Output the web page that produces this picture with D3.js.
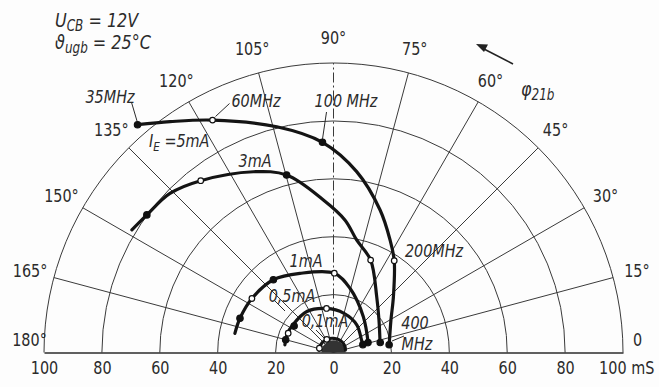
<!DOCTYPE html>
<html>
<head>
<meta charset="utf-8">
<script src="https://cdn.jsdelivr.net/npm/d3@7"></script>
<style>
  body { margin: 0; background: #fdfdfd; }
  text { font-family: "DejaVu Sans", sans-serif; fill: #2b2b2b; }
  .it { font-style: italic; }
</style>
</head>
<body>
<svg id="chart" width="659" height="387"></svg>
<script>
// grid
var rings = [20, 40, 60, 80, 100];
var spokes = [15, 30, 45, 60, 75, 90, 105, 120, 135, 150, 165];
var angleTicks = [0, 15, 30, 45, 60, 75, 90, 105, 120, 135, 150, 165, 180];
var magTicks = [-100, -80, -60, -40, -20, 0, 20, 40, 60, 80, 100];

// y21b curves: [magnitude mS, phase deg]
var ie5 = [[103.8, 130.7], [97.7, 125.3], [90.5, 117.5], [80.4, 104.1], [72.7, 93.0], [63.0, 82.7],
           [51.8, 71.9], [43.5, 63.3], [38.0, 56.5], [28.3, 43], [22.8, 29.5], [19.4, 7.7]];
var ie3 = [[81.5, 148.7], [80.1, 143.6], [78.8, 135.8], [75.0, 127.7], [68.3, 113.9], [63.4, 104.8],
           [52.8, 93.8], [45.9, 85], [39.7, 78.4], [34.4, 68.1], [24.4, 52.3], [19.3, 35.5], [16.4, 11.2]];
var ie1 = [[34.7, 169], [34.4, 159.9], [33.8, 146.5], [32.6, 129.6], [29.7, 113], [27.4, 89.4],
           [22.9, 75.6], [16.1, 50.2], [12.4, 14.8]];
var ie05 = [[17.0, 171], [17.2, 158], [17.0, 146], [16.9, 123], [15.4, 99], [14.0, 75],
            [12.5, 50], [10.6, 24], [10.5, 14]];
var ie01 = [[5.0, 172], [5.2, 150], [5.1, 117], [4.9, 90], [4.8, 60], [4.5, 30], [4.2, 12]];

// frequency markers: [magnitude, phase, MHz]
var mk5 = [[103.8, 130.7, 35], [90.5, 117.5, 60], [72.7, 93.0, 100], [38.0, 56.5, 200], [19.4, 8, 400]];
var mk3 = [[80.1, 143.6, 35], [75.0, 127.7, 60], [63.4, 104.8, 100], [34.4, 68.1, 200], [16.5, 12, 400]];
var mk1 = [[34.4, 159.9, 35], [33.8, 146.5, 60], [32.6, 129.6, 100], [27.4, 89.4, 200], [12.4, 16, 400]];
var mk05 = [[17.1, 165, 35], [17.0, 157, 60], [16.4, 146, 100], [15.4, 99, 200], [10.5, 15, 400]];
var mk01 = [[5.1, 163, 60], [5.1, 117, 200]];

var svg = d3.select('#chart');
var cx = 333.5, cy = 352.5;
var narrow = 0.8;
var r = d3.scaleLinear().domain([0, 100]).range([0, 289.5]);
var x = d3.scaleLinear().domain([-100, 100]).range([cx - r(100), cx + r(100)]);

function pt(m, deg) {
    var a = deg * Math.PI / 180;
    return [cx + r(m) * Math.cos(a), cy - r(m) * Math.sin(a)];
}
function at(px, py) {
    return 'translate(' + px + ',' + py + ') scale(' + narrow + ',1)';
}

var grid = svg.append('g').attr('fill', 'none').attr('stroke', '#3a3a3a').attr('stroke-width', 1);
grid.selectAll('.ring')
    .data(rings)
    .enter().append('path')
    .attr('class', 'ring')
    .attr('d', function (d) {
        return 'M' + pt(d, 180) + 'A' + r(d) + ',' + r(d) + ' 0 0 1 ' + pt(d, 0);
    });
grid.selectAll('.spoke')
    .data(spokes)
    .enter().append('line')
    .attr('class', 'spoke')
    .attr('x1', cx).attr('y1', cy)
    .attr('x2', function (d) { return pt(100, d)[0]; })
    .attr('y2', function (d) { return pt(100, d)[1]; })
    .attr('stroke-dasharray', function (d) { return d === 90 ? '10,3,2,3' : null; });

// magnitude axis along the baseline
var axis = svg.append('g')
    .attr('transform', 'translate(0,' + cy + ')')
    .call(d3.axisBottom(x).tickValues(magTicks).tickSize(0).tickPadding(9)
        .tickFormat(function (d) { return d === 100 ? '100 mS' : Math.abs(d); }));
axis.select('.domain').attr('stroke', '#2b2b2b').attr('stroke-width', 1.6);
axis.selectAll('text').attr('font-size', 18).attr('fill', '#2b2b2b').attr('font-family', null)
    .attr('transform', 'scale(' + narrow + ',1)')
    .attr('dx', function (d) { return d === 100 ? 4 : 0; });

// angle labels
svg.append('g').selectAll('text')
    .data(angleTicks)
    .enter().append('text')
    .attr('font-size', 18)
    .attr('text-anchor', 'middle')
    .attr('dominant-baseline', 'central')
    .attr('transform', function (d) {
        var p = pt(d === 0 || d === 180 ? 105 : 108.5, d);
        return at(p[0], d === 0 || d === 180 ? cy - 13 : p[1]);
    })
    .text(function (d) { return d === 0 ? '0' : d + '°'; });

// curves
var line = d3.line()
    .x(function (d) { return pt(d[0], d[1])[0]; })
    .y(function (d) { return pt(d[0], d[1])[1]; })
    .curve(d3.curveCatmullRom.alpha(0.5));

svg.append('path')
    .attr('d', 'M' + pt(4.2, 180) + 'A' + r(4.2) + ',' + r(4.2) + ' 0 0 1 ' + pt(4.2, 0) + 'Z')
    .attr('fill', '#333');

var curves = [ie5, ie3, ie1, ie05, ie01];
svg.append('g').selectAll('path')
    .data(curves)
    .enter().append('path')
    .attr('d', line)
    .attr('fill', 'none')
    .attr('stroke', '#141414')
    .attr('stroke-width', 3.2)
    .attr('stroke-linecap', 'round');

var markers = [].concat(mk5, mk3, mk1, mk05, mk01);
svg.append('g').selectAll('circle')
    .data(markers)
    .enter().append('circle')
    .attr('cx', function (d) { return pt(d[0], d[1])[0]; })
    .attr('cy', function (d) { return pt(d[0], d[1])[1]; })
    .attr('r', function (d) { return d[2] === 60 || d[2] === 200 ? 2.8 : 3.2; })
    .attr('fill', function (d) { return d[2] === 60 || d[2] === 200 ? '#fff' : '#111'; })
    .attr('stroke', '#111')
    .attr('stroke-width', 1.2);

// leaders
var leaders = [[[131.7, 103], [137, 121]], [[229.5, 103.5], [215.5, 116.5]], [[326.5, 112], [322.5, 139]],
               [[392, 341], [404, 336]], [[274, 300], [285, 311]], [[316, 330], [324, 338]]];
svg.append('g').selectAll('path')
    .data(leaders)
    .enter().append('path')
    .attr('d', function (d) { return d3.line()(d); })
    .attr('stroke', '#2b2b2b')
    .attr('stroke-width', 1);

// phase arrow
svg.append('line').attr('x1', 513).attr('y1', 64).attr('x2', 484).attr('y2', 49)
    .attr('stroke', '#222').attr('stroke-width', 1.6);
svg.append('path').attr('d', 'M476,44L488,44.5L484,52Z').attr('fill', '#222');

// text labels
var labels = [
    ['35MHz', 110, 97], ['60MHz', 256, 101], ['100 MHz', 346, 101],
    ['3mA', 255, 161], ['1mA', 306, 261], ['0,5mA', 292, 296], ['0,1mA', 325, 321],
    ['200MHz', 434, 251], ['400', 415, 323], ['MHz', 417, 344]
];
svg.append('g').selectAll('text')
    .data(labels)
    .enter().append('text')
    .attr('class', 'it')
    .attr('text-anchor', 'middle')
    .attr('dominant-baseline', 'central')
    .attr('transform', function (d) { return at(d[1], d[2]); })
    .attr('font-size', 18)
    .text(function (d) { return d[0]; });

var ie = svg.append('text').attr('class', 'it').attr('transform', at(149, 147)).attr('font-size', 18);
ie.append('tspan').text('I');
ie.append('tspan').attr('font-size', 13).attr('dy', 4).text('E');
ie.append('tspan').attr('dy', -4).text(' =5mA');

var phi = svg.append('text').attr('class', 'it').attr('transform', at(521, 96)).attr('font-size', 20);
phi.append('tspan').text('φ');
phi.append('tspan').attr('font-size', 15).attr('dy', 4).text('21b');

var ucb = svg.append('text').attr('class', 'it').attr('transform', at(55, 27)).attr('font-size', 20);
ucb.append('tspan').text('U');
ucb.append('tspan').attr('font-size', 15).attr('dy', 4).text('CB');
ucb.append('tspan').attr('dy', -4).text(' = 12V');

var tmp = svg.append('text').attr('class', 'it').attr('transform', at(55, 49)).attr('font-size', 20);
tmp.append('tspan').text('ϑ');
tmp.append('tspan').attr('font-size', 15).attr('dy', 4).text('ugb');
tmp.append('tspan').attr('dy', -4).text(' = 25°C');
</script>
</body>
</html>
